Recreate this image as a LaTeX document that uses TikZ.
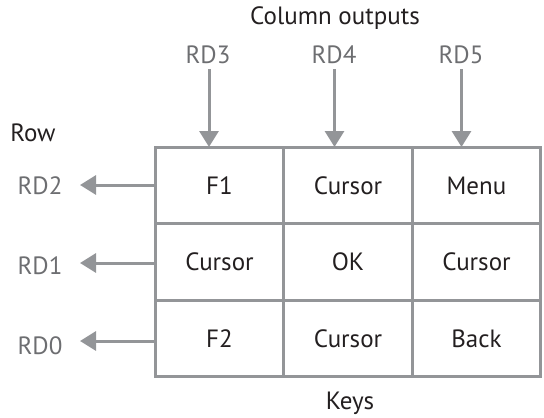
\documentclass[tikz,border=0pt]{standalone}
\usepackage{fontspec}
\setmainfont{PT Sans}
\usetikzlibrary{arrows.meta}
\definecolor{linegray}{HTML}{939598}
\definecolor{labgray}{HTML}{6D6E71}
\definecolor{txt}{HTML}{231F20}
\tikzset{
  cell/.style={draw=linegray, line width=3pt, minimum width=128.5pt, minimum height=76.5pt, inner sep=0pt, text=txt, font=\fontsize{25}{30}\selectfont},
  lab/.style={text=labgray, font=\fontsize{25}{30}\selectfont, inner sep=0pt},
  ttl/.style={text=txt, font=\fontsize{25}{30}\selectfont, inner sep=0pt},
  arr/.style={draw=linegray, line width=3pt, -{Triangle[width=19pt,length=16pt]}}
}
\begin{document}
\begin{tikzpicture}[x=1pt,y=-1pt]
\useasboundingbox (0,0) rectangle (544,418);
% grid cells
\node[cell] (c11) at (219.5,185.5) {F1};
\node[cell] (c12) at (348,185.5) {Cursor};
\node[cell] (c13) at (476.5,185.5) {Menu};
\node[cell] (c21) at (219.5,262) {Cursor};
\node[cell] (c22) at (348,262) {OK};
\node[cell] (c23) at (476.5,262) {Cursor};
\node[cell] (c31) at (219.5,338.5) {F2};
\node[cell] (c32) at (348,338.5) {Cursor};
\node[cell] (c33) at (476.5,338.5) {Back};
% titles
\node[ttl] (col) at (335,18) {Column outputs};
\node[ttl] (row) at (33,133) {Row};
\node[ttl] (keys) at (350,403) {Keys};
% column labels
\node[lab] (rd3) at (208,55) {RD3};
\node[lab] (rd4) at (334,55) {RD4};
\node[lab] (rd5) at (461,55) {RD5};
% row labels
\node[lab] (rd2) at (40,186) {RD2};
\node[lab] (rd1) at (40,266) {RD1};
\node[lab] (rd0) at (40,346) {RD0};
% column arrows
\coordinate (t3) at (209,147);
\coordinate (t4) at (334.5,147);
\coordinate (t5) at (461.5,147);
\draw[arr] (rd3.south -| t3) ++(0,5) -- (t3);
\draw[arr] (rd4.south -| t4) ++(0,5) -- (t4);
\draw[arr] (rd5.south -| t5) ++(0,5) -- (t5);
% row arrows
\coordinate (h2) at (80,185);
\coordinate (h1) at (80,263);
\coordinate (h0) at (80,341);
\draw[arr] (c11.west |- h2) -- (h2);
\draw[arr] (c21.west |- h1) -- (h1);
\draw[arr] (c31.west |- h0) -- (h0);
\end{tikzpicture}
\end{document}
